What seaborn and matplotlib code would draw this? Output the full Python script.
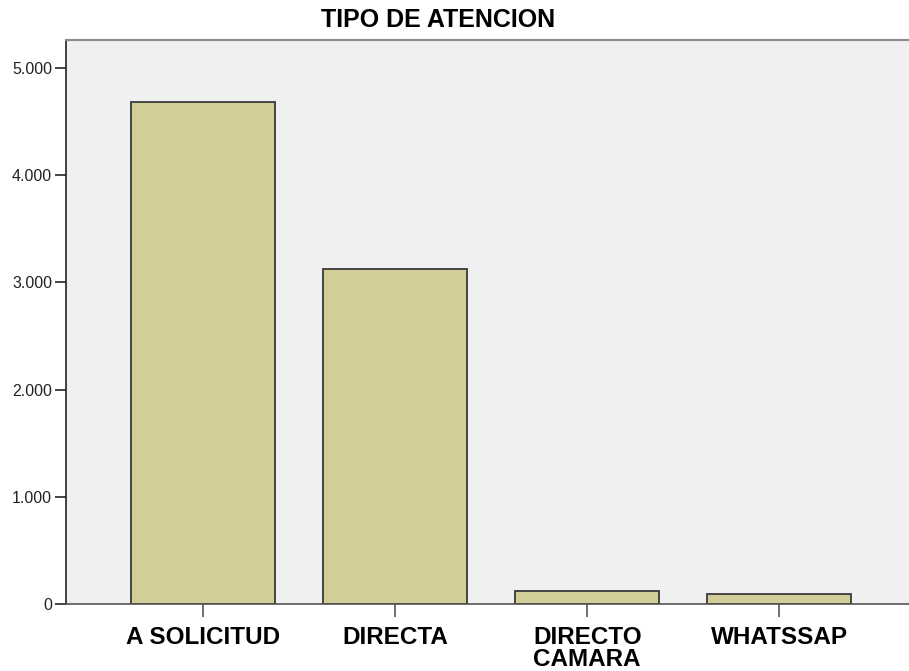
import matplotlib
matplotlib.use("Agg")
import matplotlib.pyplot as plt
import seaborn as sns
import pandas as pd
from matplotlib.ticker import FuncFormatter

categories = ["A SOLICITUD", "DIRECTA", "DIRECTO\nCAMARA", "WHATSSAP"]
counts = [4685, 3125, 124, 93]
y_ticks = [0, 1000, 2000, 3000, 4000, 5000]

df = pd.DataFrame({"tipo": categories, "n": counts})

sns.set_theme(style="white")
plt.rcParams['font.family'] = ['Liberation Sans', 'DejaVu Sans']

fig = plt.figure(figsize=(9.09, 6.71), dpi=100)
ax = fig.add_axes([66 / 909, 67 / 671, 843 / 909, 564 / 671])
ax.set_facecolor("#F0F0F0")

sns.barplot(data=df, x="tipo", y="n", ax=ax, color="#D3CE97", saturation=1,
            width=0.75, edgecolor="#3a3a3a", linewidth=1.3)

ax.set_xlim(-0.716, 3.677)
ax.set_ylim(0, 5261)
ax.set_yticks(y_ticks)
ax.yaxis.set_major_formatter(FuncFormatter(lambda v, p: f"{int(v):,}".replace(",", ".")))
ax.set_xlabel("")
ax.set_ylabel("")

ax.spines["right"].set_visible(False)
ax.spines["top"].set_color("#8a8a8a")
ax.spines["top"].set_linewidth(1.5)
ax.spines["left"].set_color("#222222")
ax.spines["bottom"].set_color("#555555")
ax.spines["left"].set_linewidth(1.2)
ax.spines["bottom"].set_linewidth(1.2)

ax.tick_params(axis="y", direction="out", length=8, width=1.2, color="#222222",
               labelsize=11.5, labelcolor="#222222", pad=2, left=True)
ax.tick_params(axis="x", direction="out", length=9.5, width=1.2, color="#555555",
               labelsize=17.5, labelcolor="black", pad=6, bottom=True)
for lab in ax.get_xticklabels():
    lab.set_fontweight("bold")
    lab.set_linespacing(0.95)

fig.text(438 / 909, 1 - 20 / 671, "TIPO DE ATENCION", ha="center", va="center",
         fontsize=18, fontweight="bold", color="black")

fig.savefig("out.png", dpi=100, facecolor="white")
